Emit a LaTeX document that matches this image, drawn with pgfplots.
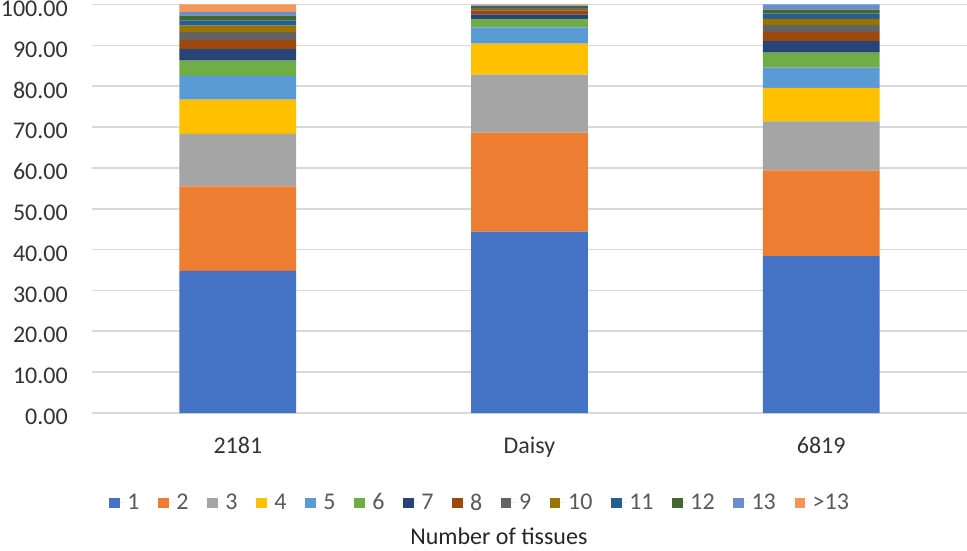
\documentclass[border=0pt]{standalone}
\usepackage{fontspec}
\setmainfont{Carlito}
\usepackage{pgfplots}
\usepackage{pgfplotstable}
\pgfplotsset{compat=1.18}

\definecolor{c1}{HTML}{4472C4}
\definecolor{c2}{HTML}{ED7D31}
\definecolor{c3}{HTML}{A5A5A5}
\definecolor{c4}{HTML}{FFC000}
\definecolor{c5}{HTML}{5B9BD5}
\definecolor{c6}{HTML}{70AD47}
\definecolor{c7}{HTML}{264478}
\definecolor{c8}{HTML}{9E480E}
\definecolor{c9}{HTML}{636363}
\definecolor{c10}{HTML}{997300}
\definecolor{c11}{HTML}{255E91}
\definecolor{c12}{HTML}{43682B}
\definecolor{c13}{HTML}{698ED0}
\definecolor{c14}{HTML}{F1975A}
\definecolor{gridgray}{HTML}{D9D9D9}
\definecolor{txtgray}{HTML}{595959}

% share of genes (%) by number of tissues
\pgfplotstableread{
x  s1   s2   s3   s4  s5   s6   s7   s8  s9   s10  s11  s12  s13  s14
0  34.8 20.7 12.8 8.4 5.85 3.7  2.8  2.3 1.9  1.55 1.3  1.15 0.9  1.85
1  44.4 24.2 14.2 7.6 4.0  2.1  1.05 1.0 0.35 0.25 0.25 0.2  0.15 0.25
2  38.4 21.0 12.0 8.2 4.95 3.65 2.9  2.2 1.7  1.45 1.3  1.0  1.25 0.0
}\tissues

\begin{document}
\begin{tikzpicture}
\path[use as bounding box] (-69pt,-102.75pt) rectangle (656.25pt,309.75pt);
\begin{axis}[
    at={(0,0)}, anchor=south west,
    scale only axis,
    width=656.25pt, height=306.4pt,
    ybar stacked, bar width=0.4,
    xmin=-0.5, xmax=2.5, ymin=0, ymax=100,
    xtick={0,1,2}, xticklabels={2181, Daisy, 6819},
    ytick={0,10,...,100},
    axis line style={draw=none},
    major tick length=0pt,
    ymajorgrids, grid style={gridgray, line width=1.2pt},
    yticklabel={\pgfmathprintnumber[fixed, fixed zerofill, precision=2]{\tick}},
    /pgf/number format/assume math mode=true,
    every tick label/.append style={font=\fontsize{18}{22}\selectfont, text=black!80},
    yticklabel style={anchor=east, inner sep=0pt, xshift=-18pt, yshift=-3pt},
    xticklabel style={anchor=north, inner sep=0pt, yshift=-18pt},
    xlabel={Number of tissues},
    xlabel style={at={(0.465,-0.321)}, anchor=base, font=\fontsize{18}{22}\selectfont, text=black!85},
    legend columns=-1,
    legend style={at={(0.444,-0.22)}, anchor=center, draw=none, fill=none,
        font=\fontsize{18}{22}\selectfont, text=txtgray,
        /tikz/every even column/.append style={column sep=12pt},
        inner sep=0pt},
    legend image code/.code={\fill[#1] (0pt,-3.9pt) rectangle (7.8pt,3.9pt);
        \path (0pt,0pt) -- (11.6pt,0pt);},
]
\addplot[fill=c1, draw=none] table[y=s1] {\tissues};
\addplot[fill=c2, draw=none] table[y=s2] {\tissues};
\addplot[fill=c3, draw=none] table[y=s3] {\tissues};
\addplot[fill=c4, draw=none] table[y=s4] {\tissues};
\addplot[fill=c5, draw=none] table[y=s5] {\tissues};
\addplot[fill=c6, draw=none] table[y=s6] {\tissues};
\addplot[fill=c7, draw=none] table[y=s7] {\tissues};
\addplot[fill=c8, draw=none] table[y=s8] {\tissues};
\addplot[fill=c9, draw=none] table[y=s9] {\tissues};
\addplot[fill=c10, draw=none] table[y=s10] {\tissues};
\addplot[fill=c11, draw=none] table[y=s11] {\tissues};
\addplot[fill=c12, draw=none] table[y=s12] {\tissues};
\addplot[fill=c13, draw=none] table[y=s13] {\tissues};
\addplot[fill=c14, draw=none] table[y=s14] {\tissues};
\legend{1,2,3,4,5,6,7,8,9,10,11,12,13,>13}
\end{axis}
\end{tikzpicture}
\end{document}
